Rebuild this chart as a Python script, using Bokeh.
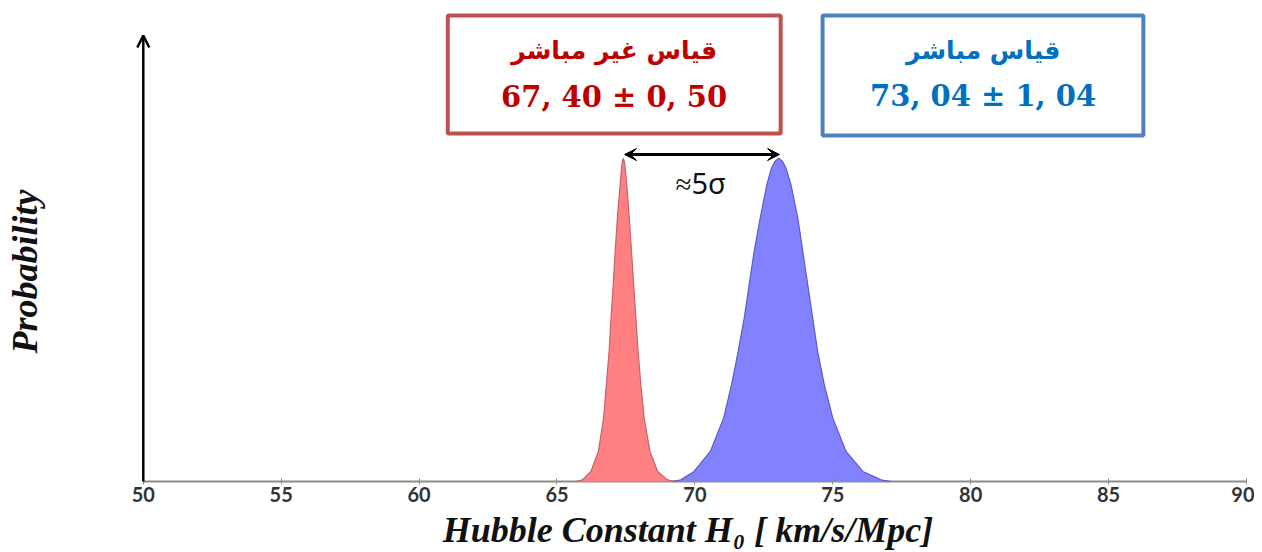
from bokeh.plotting import figure
from bokeh.models import Arrow, VeeHead, OpenHead, Label, FixedTicker, Range1d
from bokeh.embed import file_html
from bokeh.resources import INLINE

# ---- data ----
x_ticks = [50, 55, 60, 65, 70, 75, 80, 85, 90]

# indirect measurement : 67,40 ± 0,50
red_x = [65.70, 65.92, 66.23, 66.50, 66.69, 66.79, 66.89, 66.96, 67.04, 67.11, 67.19, 67.29, 67.34, 67.37,
         67.40, 67.44, 67.47, 67.53, 67.62, 67.70, 67.78, 67.86, 67.94, 68.04, 68.16, 68.37, 68.65, 69.01, 69.30]
red_p = [0.0, 0.005, 0.031, 0.093, 0.196, 0.300, 0.403, 0.506, 0.610, 0.713, 0.816, 0.919, 0.97, 0.99,
         1.0, 0.99, 0.97, 0.919, 0.816, 0.713, 0.610, 0.506, 0.403, 0.300, 0.196, 0.093, 0.031, 0.005, 0.0]

# direct measurement : 73,04 ± 1,04
blue_x = [69.20, 69.49, 69.97, 70.56, 71.04, 71.33, 71.57, 71.79, 71.97, 72.15, 72.37, 72.61, 72.78, 72.90,
          73.04, 73.18, 73.30, 73.48, 73.73, 73.91, 74.09, 74.27, 74.45, 74.69, 75.00, 75.48, 76.09, 76.75, 77.10]
blue_p = [0.0, 0.005, 0.031, 0.093, 0.196, 0.300, 0.403, 0.506, 0.610, 0.713, 0.816, 0.919, 0.97, 0.99,
          1.0, 0.99, 0.97, 0.919, 0.816, 0.713, 0.610, 0.506, 0.403, 0.300, 0.196, 0.093, 0.031, 0.005, 0.0]

red_title = "قياس غير مباشر"
red_value = "67, 40 ± 0, 50"
blue_title = "قياس مباشر"
blue_value = "73, 04 ± 1, 04"
sep_label = "≈5σ"
x_title = "Hubble Constant H₀ [ km/s/Mpc]"
y_title = "Probability"

# ---- figure ----
p = figure(width=1254, height=552, x_range=Range1d(49.5, 90), y_range=Range1d(-0.0093, 1.4882),
           output_backend="svg", toolbar_location=None, title_location="left",
           min_border_left=129, min_border_right=8, min_border_top=0, min_border_bottom=68)
p.grid.visible = False
p.outline_line_color = None
p.background_fill_color = "white"

# the y axis itself is invisible; it only keeps the title away from the frame
ya = p.yaxis[0]
ya.ticker = FixedTicker(ticks=[])
ya.axis_line_color = None
ya.major_tick_line_color = None
ya.minor_tick_line_color = None
ya.major_tick_out = 0
ya.major_tick_in = 0
ya.axis_label = " "
ya.axis_label_text_font_size = "10px"
ya.axis_label_standoff = 69

# y title as a left-side title, shifted down along the frame
p.title.text = y_title
p.title.align = "left"
p.title.offset = 131
p.title.standoff = 4
p.title.text_font = "Liberation Serif"
p.title.text_font_style = "bold italic"
p.title.text_font_size = "36px"
p.title.text_color = "#111111"

xa = p.xaxis[0]
xa.ticker = FixedTicker(ticks=x_ticks)
xa.axis_line_color = None
xa.major_tick_in = 6
xa.major_tick_out = 0
xa.major_tick_line_color = "#8c8c8c"
xa.major_tick_line_width = 1
xa.minor_tick_line_color = None
xa.major_label_text_font = "Lato"
xa.major_label_text_font_style = "bold"
xa.major_label_text_font_size = "20px"
xa.major_label_text_color = "#333333"
xa.major_label_standoff = 2
xa.axis_label = x_title
xa.axis_label_text_font = "Liberation Serif"
xa.axis_label_text_font_style = "bold italic"
xa.axis_label_text_font_size = "36px"
xa.axis_label_text_color = "#111111"
xa.axis_label_standoff = 5

# x axis base line from 50 to 90
p.segment(x0=[x_ticks[0]], y0=[0], x1=[x_ticks[-1]], y1=[0], line_color="#8c8c8c", line_width=2)

# ---- distributions ----
p.varea(x=red_x, y1=[0] * len(red_x), y2=red_p, fill_color="#ff8080", fill_alpha=1.0)
p.line(x=red_x, y=red_p, line_color="#c8606a", line_width=1.2)
p.varea(x=blue_x, y1=[0] * len(blue_x), y2=blue_p, fill_color="#8282ff", fill_alpha=1.0)
p.line(x=blue_x, y=blue_p, line_color="#5a5ac8", line_width=1.2)

# y axis arrow
p.add_layout(Arrow(end=OpenHead(size=12, line_width=2.5, line_color="black"),
                   x_start=50, y_start=0, x_end=50, y_end=1.380,
                   line_width=2.5, line_color="black"))

# separation arrow between the peaks
red_peak = red_x[red_p.index(max(red_p))]
blue_peak = blue_x[blue_p.index(max(blue_p))]
p.add_layout(Arrow(start=VeeHead(size=12, fill_color="black", line_color="black"),
                   end=VeeHead(size=12, fill_color="black", line_color="black"),
                   x_start=red_peak + 0.05, y_start=1.0117, x_end=blue_peak + 0.03, y_end=1.0117,
                   line_width=3, line_color="black"))
p.add_layout(Label(x=70.21, y=0.926, text=sep_label, text_align="center", text_baseline="middle",
                   text_font="Noto Sans", text_font_size="29px", text_color="#111111"))

# boxes
p.quad(left=[61.04], right=[73.11], bottom=[1.0767], top=[1.442],
       fill_color="white", line_color="#c0504d", line_width=4)
p.quad(left=[74.63], right=[86.26], bottom=[1.0706], top=[1.442],
       fill_color="white", line_color="#4f81bd", line_width=4)

p.add_layout(Label(x=67.07, y=1.3335, text=red_title, text_align="center", text_baseline="middle",
                   text_font="DejaVu Sans", text_font_style="bold", text_font_size="25px",
                   text_color="#c00000"))
p.add_layout(Label(x=67.07, y=1.190, text=red_value, text_align="center", text_baseline="middle",
                   text_font="DejaVu Serif", text_font_style="bold", text_font_size="29px",
                   text_color="#c00000"))
p.add_layout(Label(x=80.45, y=1.3335, text=blue_title, text_align="center", text_baseline="middle",
                   text_font="DejaVu Sans", text_font_style="bold", text_font_size="25px",
                   text_color="#0070c0"))
p.add_layout(Label(x=80.45, y=1.194, text=blue_value, text_align="center", text_baseline="middle",
                   text_font="DejaVu Serif", text_font_style="bold", text_font_size="29px",
                   text_color="#0070c0"))

open("out.html", "w").write(file_html(p, INLINE))
